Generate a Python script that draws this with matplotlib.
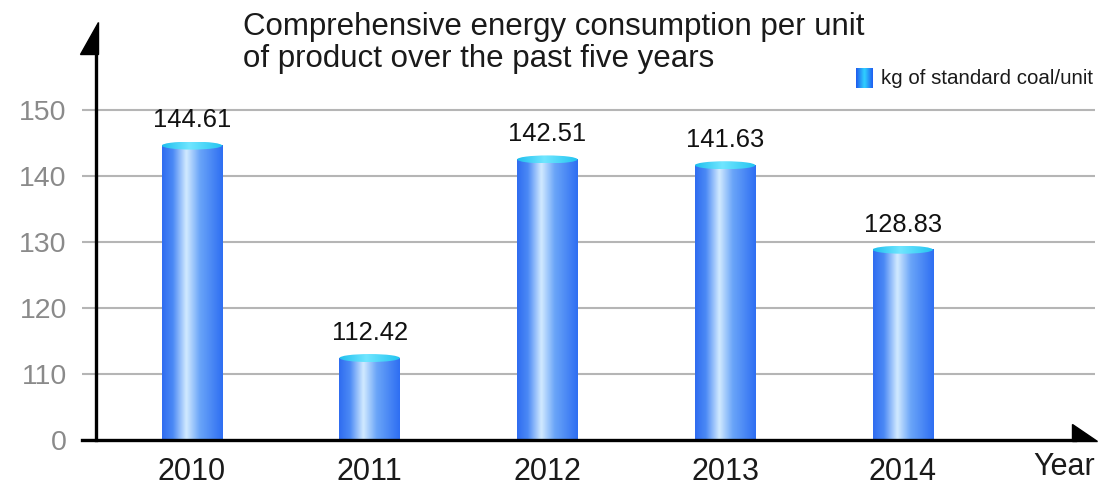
import numpy as np
import matplotlib.pyplot as plt
from matplotlib.colors import LinearSegmentedColormap
from matplotlib.patches import Ellipse, Polygon
from matplotlib.lines import Line2D

plt.rcParams['font.family'] = ['Liberation Sans', 'DejaVu Sans']

years = ['2010', '2011', '2012', '2013', '2014']
values = [144.61, 112.42, 142.51, 141.63, 128.83]
# broken axis: the first tick stands for 0, the rest are real values
tick_pos = [100, 110, 120, 130, 140, 150]
tick_labels = ['0', '110', '120', '130', '140', '150']
title = 'Comprehensive energy consumption per unit\nof product over the past five years'
unit = 'kg of standard coal/unit'

W, H = 1103, 487
fig = plt.figure(figsize=(W / 100, H / 100), dpi=100)

def fx(px):
    return px / W

def fy(py):
    return 1 - py / H

# axes box in pixels
left, right, bottom, top = 96, 1095, 440, 35
ax = fig.add_axes([fx(left), fy(bottom), fx(right - left), fy(top) - fy(bottom)])
base = tick_pos[0]
ax.set_ylim(base, base + (bottom - top) / 6.6)
ax.set_xlim(-0.540, 5.082)

for s in ax.spines.values():
    s.set_visible(False)

ax.set_yticks(tick_pos)
ax.set_yticklabels(tick_labels)
ax.tick_params(axis='y', length=10, width=1.5, color='#b5b5b5', labelsize=20.5,
               labelcolor='#8a8a8a', pad=11)
for t in tick_pos[1:]:
    ax.axhline(t, color='#b5b5b5', lw=1.5, zorder=1)

x = np.arange(len(years))
ax.set_xticks(x)
ax.set_xticklabels(years)
ax.tick_params(axis='x', length=0, labelsize=22, labelcolor='#1a1a1a', pad=12)

# cylinder shading
body_cmap = LinearSegmentedColormap.from_list('body', [
    (0.0, '#2f6cf0'), (0.18, '#4c8af5'), (0.40, '#d2eaff'),
    (0.62, '#6aa5f8'), (1.0, '#2e6ef2')])
cap_cmap = LinearSegmentedColormap.from_list('cap', [
    (0.0, '#1ebfee'), (0.45, '#70e6ff'), (1.0, '#22c4f0')])
grad = np.linspace(0, 1, 256).reshape(1, -1)

bars = ax.bar(x, [v - base for v in values], width=0.34, bottom=base,
              color='none', zorder=3)
cap_h = 8 / 6.6
for rect, v in zip(bars, values):
    x0, w = rect.get_x(), rect.get_width()
    ax.imshow(grad, cmap=body_cmap, extent=[x0, x0 + w, base, v],
              aspect='auto', zorder=3, interpolation='bicubic')
    cap = Ellipse((x0 + w / 2, v), w, cap_h, facecolor='none', edgecolor='none', zorder=4)
    ax.add_patch(cap)
    im = ax.imshow(grad, cmap=cap_cmap, extent=[x0, x0 + w, v - cap_h / 2, v + cap_h / 2],
                   aspect='auto', zorder=4, interpolation='bicubic')
    im.set_clip_path(cap)
    ax.text(x0 + w / 2, v + 2.0, f'{v:.2f}', ha='center', va='bottom',
            fontsize=18.4, color='#111111', zorder=5)

# black axes with triangular heads
fig.add_artist(Line2D([fx(left), fx(left)], [fy(bottom), fy(50)], color='black', lw=2.4))
fig.add_artist(Line2D([fx(82), fx(1075)], [fy(bottom), fy(bottom)], color='black', lw=2.4))
fig.add_artist(Polygon([(fx(97.5), fy(22)), (fx(97.5), fy(54)), (fx(80), fy(54))],
                       closed=True, color='black', transform=fig.transFigure))
fig.add_artist(Polygon([(fx(1097), fy(441)), (fx(1072), fy(441)), (fx(1072), fy(424))],
                       closed=True, color='black', transform=fig.transFigure))

fig.text(fx(1033), fy(467), 'Year', fontsize=22, color='#1a1a1a', va='center', ha='left')
fig.text(fx(243), fy(12), title, fontsize=22.5, color='#1a1a1a', va='top', ha='left',
         linespacing=1.1)

# unit key
kax = fig.add_axes([fx(856), fy(88), fx(17), fy(68) - fy(88)])
kax.imshow(grad, cmap=LinearSegmentedColormap.from_list('key', ['#1f58ee', '#2fd2ff', '#1f5cf0']),
           aspect='auto', interpolation='bicubic')
kax.axis('off')
fig.text(fx(881), fy(78), unit, fontsize=14.8, color='#1a1a1a', va='center', ha='left')

fig.savefig('out.png', dpi=100, facecolor='white')
